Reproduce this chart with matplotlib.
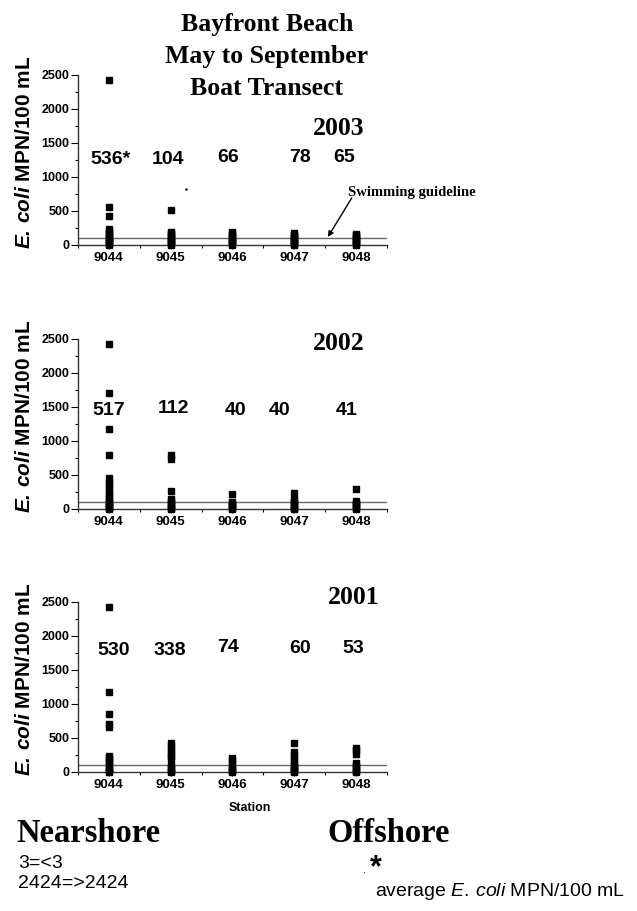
import numpy as np
import matplotlib.pyplot as plt
from matplotlib.ticker import MultipleLocator

plt.rcParams['font.family'] = ['Liberation Sans', 'DejaVu Sans']
plt.rcParams['mathtext.fontset'] = 'custom'
plt.rcParams['mathtext.it'] = 'Liberation Sans:italic'
plt.rcParams['mathtext.bfit'] = 'Liberation Sans:italic:bold'
plt.rcParams['mathtext.rm'] = 'Liberation Sans'

stations = ['9044', '9045', '9046', '9047', '9048']
guideline = 100

# individual samples per station (MPN/100 mL)
y2003 = [
    [2420, 560, 420, 240, 210, 180, 150, 120, 100, 80, 60, 40, 20, 3],
    [510, 190, 170, 150, 120, 100, 80, 60, 40, 20, 3],
    [190, 170, 140, 120, 100, 80, 60, 40, 20, 3],
    [170, 150, 130, 110, 90, 70, 50, 30, 10, 3],
    [160, 140, 120, 100, 80, 60, 40, 20, 3],
]
y2002 = [
    [2420, 1700, 1170, 800, 450, 400, 350, 300, 230, 200, 150, 120, 100, 70, 50, 30, 10, 3],
    [790, 740, 260, 150, 120, 90, 60, 30, 10, 3],
    [220, 100, 80, 60, 40, 20, 5],
    [240, 150, 120, 90, 60, 30, 10, 3],
    [300, 110, 90, 70, 40, 20, 5],
]
y2001 = [
    [2420, 1170, 860, 700, 660, 230, 200, 170, 140, 100, 60, 30, 10, 3],
    [420, 380, 330, 280, 240, 200, 120, 80, 40, 10, 3],
    [210, 170, 120, 80, 40, 10, 3],
    [420, 300, 250, 200, 150, 110, 80, 60, 30, 10, 3],
    [360, 320, 270, 130, 100, 70, 40, 10, 3],
]

avg2003 = ['536*', '104', '66', '78', '65']
avg2002 = ['517', '112', '40', '40', '41']
avg2001 = ['530', '338', '74', '60', '53']
# vertical placement of the average labels (data units)
avgpos2003 = [1250, 1250, 1290, 1290, 1290]
avgpos2002 = [1450, 1480, 1450, 1450, 1450]
avgpos2001 = [1790, 1790, 1830, 1810, 1810]
# horizontal placement (station index units)
avgx2003 = [1.03, 1.95, 2.93, 4.1, 4.8]
avgx2002 = [1.0, 2.05, 3.05, 3.77, 4.85]
avgx2001 = [1.07, 1.98, 2.93, 4.1, 4.95]

fig = plt.figure(figsize=(6.37, 9.11), dpi=100)

panels = [
    (0.7311, y2003, avg2003, avgpos2003, avgx2003, '2003', (4.30, 1720)),
    (0.4413, y2002, avg2002, avgpos2002, avgx2002, '2002', (4.30, 2427)),
    (0.1526, y2001, avg2001, avgpos2001, avgx2001, '2001', (4.545, 2560)),
]

axes = []
for bottom, data, avgs, apos, ax_x, year, ypos in panels:
    ax = fig.add_axes([0.1224, bottom, 0.485, 0.1866])
    axes.append(ax)
    for i, vals in enumerate(data):
        ax.plot([i + 1] * len(vals), vals, 's', color='black', ms=4.5,
                clip_on=False, zorder=3)
    ax.axhline(guideline, color='#666666', lw=1.0, zorder=2)
    ax.set_xlim(0.5, 5.5)
    ax.set_ylim(0, 2500)
    ax.set_xticks(range(1, 6))
    ax.set_xticklabels(stations, fontsize=9.5, fontweight='bold')
    ax.xaxis.set_minor_locator(MultipleLocator(0.5))
    ax.yaxis.set_major_locator(MultipleLocator(500))
    ax.yaxis.set_minor_locator(MultipleLocator(250))
    ax.tick_params(axis='y', labelsize=9, length=5, width=0.8, pad=1)
    for lab in ax.get_yticklabels():
        lab.set_fontweight('bold')
    ax.tick_params(axis='x', length=3, width=0.8, pad=2)
    ax.tick_params(which='minor', length=2.5, width=0.8)
    for s in ['top', 'right']:
        ax.spines[s].set_visible(False)
    for s in ['left', 'bottom']:
        ax.spines[s].set_linewidth(1.0)
        ax.spines[s].set_color('#333333')
    ax.text(-0.172, 0.547, r'$\bfit{E.\,coli}$ MPN/100 mL', transform=ax.transAxes,
            rotation=90, fontsize=15, fontweight='bold', ha='center', va='center')
    for i, t in enumerate(avgs):
        ax.text(ax_x[i], apos[i], t, fontsize=14, fontweight='bold',
                ha='center', va='center')
    ax.text(ypos[0], ypos[1], year, fontsize=18.5, fontweight='bold',
            family='Liberation Serif', ha='left', va='center')

# stray dot on the 2003 panel
axes[0].plot([2.25], [820], '.', color='black', ms=1.5)

# swimming guideline annotation
axes[0].text(4.87, 765, 'Swimming guideline', fontsize=10.5, fontweight='bold',
             family='Liberation Serif', ha='left', va='center', clip_on=False)
axes[0].annotate('', xy=(4.545, 118), xytext=(4.93, 690),
                 arrowprops=dict(arrowstyle='-|>', color='black', lw=1.0,
                                 mutation_scale=8, shrinkA=0, shrinkB=0),
                 annotation_clip=False)

fig.text(250 / 637, 1 - 808 / 911, 'Station', fontsize=9, fontweight='bold',
         ha='center', va='center')

title = ['Bayfront Beach', 'May to September', 'Boat Transect']
for k, line in enumerate(title):
    fig.text(0.419, 1 - (31 + 32 * k) / 911, line, fontsize=18.5, fontweight='bold',
             family='Liberation Serif', ha='center', va='baseline')

fig.text(16 / 637, 1 - 842 / 911, 'Nearshore', fontsize=23.5, fontweight='bold',
         family='Liberation Serif', ha='left', va='baseline')
fig.text(327 / 637, 1 - 842 / 911, 'Offshore', fontsize=23.5, fontweight='bold',
         family='Liberation Serif', ha='left', va='baseline')
fig.text(18 / 637, 1 - 864 / 911, '3=<3', fontsize=14, ha='left', va='center')
fig.text(18 / 637, 1 - 883 / 911, '2424=>2424', fontsize=14, ha='left', va='center')
fig.text(363 / 637, 1 - 870 / 911, '.', fontsize=8, ha='left', va='center')
fig.text(370 / 637, 1 - 868 / 911, '*', fontsize=22, fontweight='bold',
         ha='left', va='center')
fig.text(375 / 637, 1 - 891 / 911, r'average $\it{E.\,coli}$ MPN/100 mL', fontsize=14,
         ha='left', va='center')

fig.savefig('out.png', dpi=100)
